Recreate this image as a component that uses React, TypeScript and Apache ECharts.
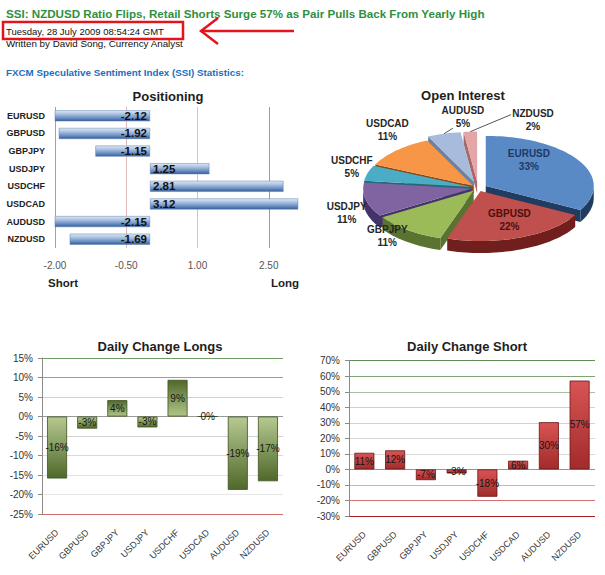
import React, { useEffect, useRef } from 'react';
import * as echarts from 'echarts';

// ---------------- data ----------------
const PAIRS = ['EURUSD', 'GBPUSD', 'GBPJPY', 'USDJPY', 'USDCHF', 'USDCAD', 'AUDUSD', 'NZDUSD'];
const POSITIONING = [-2.12, -1.92, -1.15, 1.25, 2.81, 3.12, -2.15, -1.69];
const POS_TICKS = [-2, -0.5, 1, 2.5, 4];
const POS_TICK_LABELS = [-2, -0.5, 1, 2.5];
const OPEN_INTEREST = [33, 22, 11, 11, 5, 11, 5, 2];
const LONGS_CHANGE = [-15.9, -3.1, 4.2, -2.8, 9.4, 0, -18.8, -16.6];
const SHORTS_CHANGE = [10.7, 12.3, -6.9, -2.6, -17.6, 5.6, 30.4, 57.2];

const HEADLINE = 'SSI: NZDUSD Ratio Flips, Retail Shorts Surge 57% as Pair Pulls Back From Yearly High';
const DATELINE = 'Tuesday, 28 July 2009 08:54:24 GMT';
const BYLINE = 'Written by David Song, Currency Analyst';
const SECTION = 'FXCM Speculative Sentiment Index (SSI) Statistics:';

// ---------------- styles / layout ----------------
const FONT = 'Liberation Sans';
const G = echarts.graphic;

const titleText = (text: string, x: number, y: number) => ({
  type: 'text',
  x,
  y,
  style: { text, fontSize: 13, fontWeight: 'bold', fontFamily: FONT, fill: '#1e1e1e', align: 'center', verticalAlign: 'middle' },
});

// ---------- header ----------
const headerOption = {
  animation: false,
  graphic: [
    { type: 'text', x: 6, y: 13, style: { text: HEADLINE, fontSize: 11.6, fontWeight: 'bold', fontFamily: FONT, fill: '#2f8f3f', verticalAlign: 'middle' } },
    { type: 'text', x: 6, y: 31, style: { text: DATELINE, fontSize: 9.5, fontFamily: FONT, fill: '#111', verticalAlign: 'middle' } },
    { type: 'text', x: 6, y: 43, style: { text: BYLINE, fontSize: 9.8, fontFamily: FONT, fill: '#111', verticalAlign: 'middle' } },
    { type: 'text', x: 6, y: 72, style: { text: SECTION, fontSize: 9.8, fontWeight: 'bold', fontFamily: FONT, fill: '#1a6fbf', verticalAlign: 'middle' } },
    { type: 'rect', shape: { x: 3, y: 22, width: 180, height: 17 }, style: { fill: 'none', stroke: '#e3141c', lineWidth: 2.5 } },
    { type: 'line', shape: { x1: 201, y1: 31, x2: 294, y2: 31 }, style: { stroke: '#e3141c', lineWidth: 2.5 } },
    { type: 'polyline', shape: { points: [[218, 18], [201, 31], [218, 44]] }, style: { stroke: '#e3141c', lineWidth: 2.5, fill: 'none' } },
  ],
};

// ---------- positioning ----------
const blueBar = new G.LinearGradient(0, 0, 0, 1, [
  { offset: 0, color: '#dfe8f4' },
  { offset: 0.35, color: '#a9c0df' },
  { offset: 0.75, color: '#6288be' },
  { offset: 1, color: '#345c96' },
]);

const positioningOption = {
  animation: false,
  graphic: [
    titleText('Positioning', 168, 16),
    { type: 'text', x: 48, y: 203, style: { text: 'Short', fontSize: 11.5, fontWeight: 'bold', fontFamily: FONT, fill: '#1e1e1e', verticalAlign: 'middle' } },
    { type: 'text', x: 271, y: 203, style: { text: 'Long', fontSize: 11.5, fontWeight: 'bold', fontFamily: FONT, fill: '#1e1e1e', verticalAlign: 'middle' } },
  ],
  grid: { left: 55, right: -40, top: 27, height: 141, outerBoundsMode: 'none' },
  xAxis: {
    type: 'value',
    min: POS_TICKS[0],
    max: POS_TICKS[POS_TICKS.length - 1],
    axisLine: { show: false },
    axisTick: { show: false, customValues: POS_TICKS },
    axisLabel: { customValues: POS_TICK_LABELS, formatter: (v: number) => v.toFixed(2), fontSize: 10, color: '#555', fontFamily: FONT, margin: 12 },
    splitLine: { show: true, lineStyle: { color: ['#d98c8c', '#e4b8b8', '#bcd6b2', '#7fb07a', '#7fb07a'], width: 1 } },
  },
  yAxis: {
    type: 'category',
    data: PAIRS,
    inverse: true,
    axisLine: { show: false },
    axisTick: { show: false },
    axisLabel: { fontWeight: 'bold', fontSize: 9, color: '#222', fontFamily: FONT, margin: 10 },
    splitLine: { show: false },
  },
  series: [
    {
      type: 'bar',
      data: POSITIONING.map((v) => ({ value: v, label: { position: v < 0 ? 'insideRight' : 'insideLeft' } })),
      barWidth: 11,
      itemStyle: { color: blueBar, borderColor: '#5d80b3', borderWidth: 0.5 },
      label: { show: true, formatter: (p: any) => Number(p.value).toFixed(2), fontWeight: 'bold', fontSize: 11.5, color: '#111', fontFamily: FONT, distance: 3 },
      silent: true,
    },
  ],
};

// ---------- open interest (3D exploded pie) ----------
const PIE_CX = 178;
const PIE_CY = 108;
const PIE_RX = 108;
const PIE_RY = 50;
const PIE_DEPTH = 12;
const PIE_EXPLODE = [9, 7, 7, 7, 7, 7, 14, 14];
const PIE_TOP = ['#5a8ac6', '#c0504d', '#9bbb59', '#8064a2', '#4bacc6', '#f79646', '#a7bbdd', '#e3a5a5'];
const PIE_SIDE = ['#213c61', '#701f1d', '#5b7331', '#44326a', '#22677a', '#8a4912', '#6f819f', '#a86868'];
const PIE_LABEL_COLOR = ['#1f3864', '#4a1010', '#262626', '#262626', '#262626', '#262626', '#262626', '#262626'];
const PIE_LABEL_NUDGE = [[-8, -12], [7, 3], [-7, -2], [2, 11], [5, -3], [6, -13], [25, -7], [64, -2]];
const PIE_LEADER: (number[] | null)[] = [null, null, null, null, null, null, [-10, 11], [-22, -5]];

const PIE_TOTAL = OPEN_INTEREST.reduce((a, b) => a + b, 0);
const PIE_START = OPEN_INTEREST.map((_, i) => (OPEN_INTEREST.slice(0, i).reduce((a, b) => a + b, 0) / PIE_TOTAL) * 360);
const sind = (a: number) => Math.sin((a * Math.PI) / 180);
const cosd = (a: number) => Math.cos((a * Math.PI) / 180);

type Slice = { s: number; e: number; m: number; cx: number; cy: number };
const sliceGeom = (i: number, value: number): Slice => {
  const s = PIE_START[i];
  const e = s + (value / PIE_TOTAL) * 360;
  const m = (s + e) / 2;
  const ex = PIE_EXPLODE[i];
  return { s, e, m, cx: PIE_CX + ex * sind(m), cy: PIE_CY - ex * cosd(m) * (PIE_RY / PIE_RX) };
};
const rim = (g: Slice, a: number, f = 1, dy = 0) => [g.cx + f * PIE_RX * sind(a), g.cy - f * PIE_RY * cosd(a) + dy];
const arcPts = (g: Slice, a0: number, a1: number, dy = 0) => {
  const n = Math.max(2, Math.ceil((a1 - a0) / 2));
  const pts: number[][] = [];
  for (let k = 0; k <= n; k++) pts.push(rim(g, a0 + ((a1 - a0) * k) / n, 1, dy));
  return pts;
};
const depthZ = (a: number) => Math.round(-cosd(a) * 100);

const PIE_DATA = OPEN_INTEREST.map((v, i) => ({ name: PAIRS[i], value: v }));

const renderSides = (params: any, api: any) => {
  const i = params.dataIndex;
  const g = sliceGeom(i, api.value(0));
  const children: any[] = [];
  const a0 = Math.max(g.s, 90);
  const a1 = Math.min(g.e, 270);
  if (a1 > a0) {
    children.push({
      type: 'polygon',
      z2: 300 + depthZ((a0 + a1) / 2),
      shape: { points: [...arcPts(g, a0, a1), ...arcPts(g, a0, a1, PIE_DEPTH).reverse()] },
      style: { fill: PIE_SIDE[i] },
    });
  }
  const face = (a: number) => ({
    type: 'polygon',
    z2: 100 + depthZ(a),
    shape: { points: [[g.cx, g.cy], rim(g, a), rim(g, a, 1, PIE_DEPTH), [g.cx, g.cy + PIE_DEPTH]] },
    style: { fill: PIE_SIDE[i] },
  });
  if (sind(g.s) < -1e-6) children.push(face(g.s));
  if (sind(g.e) > 1e-6) children.push(face(g.e));
  return { type: 'group', children };
};

const renderTops = (params: any, api: any) => {
  const i = params.dataIndex;
  const g = sliceGeom(i, api.value(0));
  return {
    type: 'polygon',
    shape: { points: [[g.cx, g.cy], ...arcPts(g, g.s, g.e)] },
    style: { fill: PIE_TOP[i] },
  };
};

const renderLabels = (params: any, api: any) => {
  const i = params.dataIndex;
  const v = api.value(0);
  const g = sliceGeom(i, v);
  const p = rim(g, g.m, v >= 20 ? 0.55 : 1.2);
  const lx = p[0] + PIE_LABEL_NUDGE[i][0];
  const ly = p[1] + PIE_LABEL_NUDGE[i][1];
  const children: any[] = [];
  const lead = PIE_LEADER[i];
  if (lead) {
    const q = rim(g, g.m, 1.0);
    children.push({ type: 'line', shape: { x1: q[0], y1: q[1], x2: lx + lead[0], y2: ly + lead[1] }, style: { stroke: '#555', lineWidth: 1 } });
  }
  children.push({
    type: 'text',
    x: lx,
    y: ly,
    style: {
      text: `${PAIRS[i]}\n${v}%`,
      fontSize: 10,
      fontWeight: 'bold',
      fontFamily: FONT,
      fill: PIE_LABEL_COLOR[i],
      align: 'center',
      verticalAlign: 'middle',
      lineHeight: 13,
    },
  });
  return { type: 'group', children };
};

const pieOption = {
  animation: false,
  graphic: [titleText('Open Interest', 163, 15)],
  series: [
    { type: 'custom', coordinateSystem: 'none', z: 2, silent: true, data: PIE_DATA, renderItem: renderSides },
    { type: 'custom', coordinateSystem: 'none', z: 3, silent: true, data: PIE_DATA, renderItem: renderTops },
    { type: 'custom', coordinateSystem: 'none', z: 4, silent: true, data: PIE_DATA, renderItem: renderLabels },
  ],
};

// ---------- daily change charts ----------
const grad = (top: string, bottom: string) =>
  new G.LinearGradient(0, 0, 0, 1, [
    { offset: 0, color: top },
    { offset: 1, color: bottom },
  ]);

const LONG_GRID = ['#d26a6a', '#e8e8e8', '#e2e2e2', '#dadada', '#d4d4d4', '#9a9a9a', '#c6dabd', '#84ad7c', '#6f9c67'];
const SHORT_GRID = ['#a41f1f', '#d27272', '#e3a8a8', '#949494', '#dadada', '#d8d8d8', '#d2d2d2', '#cbd6c4', '#a9c1a1', '#7ea476', '#5f8c57'];

const changeOption = (title: string, titleX: number, values: number[], min: number, max: number, step: number, grid: any, gridColors: string[], colorFor: (v: number) => any, border: string) => ({
  animation: false,
  graphic: [titleText(title, titleX, 26)],
  grid: { ...grid, outerBoundsMode: 'none' },
  xAxis: {
    type: 'category',
    data: PAIRS,
    axisLine: { show: false, onZero: false },
    axisTick: { show: false },
    axisLabel: { interval: 0, rotate: 45, fontSize: 9, color: '#333', fontFamily: FONT, margin: 17 },
    splitLine: { show: false },
  },
  yAxis: {
    type: 'value',
    min,
    max,
    interval: step,
    axisLine: { show: true, lineStyle: { color: '#8a8a8a' } },
    axisTick: { show: true, length: 4, lineStyle: { color: '#8a8a8a' } },
    axisLabel: { formatter: '{value}%', fontSize: 10, color: '#333', fontFamily: FONT, margin: 9 },
    splitLine: { show: true, lineStyle: { color: gridColors, width: 1 } },
  },
  series: [
    {
      type: 'bar',
      data: values.map((v) => ({ value: v, itemStyle: { color: colorFor(v) } })),
      barWidth: 20,
      itemStyle: { borderColor: border, borderWidth: 0.8 },
      label: { show: true, position: 'inside', formatter: (p: any) => `${Math.round(p.value)}%`, fontSize: 10, color: '#161616', fontFamily: FONT },
      silent: true,
    },
  ],
});

const greenNeg = grad('#b6c991', '#4f692a');
const greenPos = grad('#4f692a', '#b0c48a');
const redBar = grad('#d85454', '#a22b2b');

const longsOption = changeOption('Daily Change Longs', 160, LONGS_CHANGE, -25, 15, 5, { left: 42, right: 17, top: 38, bottom: 61 }, LONG_GRID, (v) => (v < 0 ? greenNeg : greenPos), '#3f5220');
const shortsOption = changeOption('Daily Change Short', 167, SHORTS_CHANGE, -30, 70, 10, { left: 49, right: 10, top: 40.7, bottom: 59 }, SHORT_GRID, () => redBar, '#6a1414');

// ---------------- components ----------------
function Chart({ option, left, top, width, height }: { option: any; left: number; top: number; width: number; height: number }) {
  const ref = useRef<HTMLDivElement>(null);
  useEffect(() => {
    if (!ref.current) return;
    const chart = echarts.init(ref.current, undefined, { renderer: 'svg' });
    chart.setOption(option);
    return () => chart.dispose();
  }, [option]);
  return <div ref={ref} style={{ position: 'absolute', left, top, width, height, overflow: 'hidden' }} />;
}

export default function App() {
  return (
    <div style={{ position: 'fixed', left: 0, top: 0, width: 605, height: 575, background: '#fff', overflow: 'hidden' }}>
      <Chart option={headerOption} left={0} top={0} width={605} height={80} />
      <Chart option={positioningOption} left={0} top={80} width={300} height={220} />
      <Chart option={pieOption} left={300} top={80} width={305} height={220} />
      <Chart option={longsOption} left={0} top={320} width={300} height={255} />
      <Chart option={shortsOption} left={300} top={320} width={305} height={255} />
    </div>
  );
}
